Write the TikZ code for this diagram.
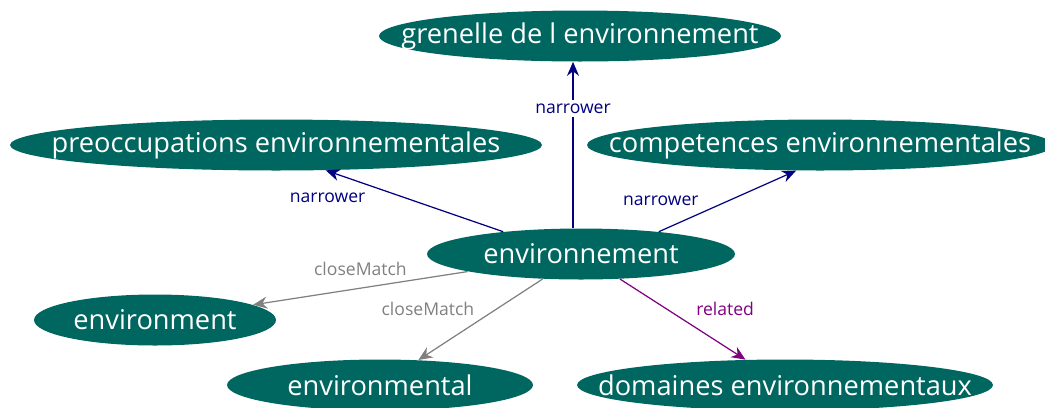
\documentclass[tikz,border=0pt]{standalone}
\usepackage{fontspec}
\setmainfont{Open Sans}
\usepackage{tikz}
\usetikzlibrary{positioning,arrows.meta,shapes.geometric,calc}
\definecolor{Teal}{RGB}{0,102,96}
\definecolor{Navy}{RGB}{0,0,128}
\definecolor{Plum}{RGB}{128,0,128}
\definecolor{MidGray}{RGB}{128,128,128}
\newcommand{\term}[1]{\makebox[0pt]{#1}}

\begin{document}
\begin{tikzpicture}[
    x=0.02cm, y=-0.02cm,
    concept/.style={ellipse, fill=Teal, inner sep=0pt, text=white,
                    minimum height=1.02cm, font=\fontsize{15.5}{18}\selectfont},
    link/.style={-{Stealth[length=2.8mm, width=2.4mm]}, line width=0.7pt},
    rel/.style={font=\fontsize{10}{12}\selectfont, inner sep=1pt}
]
    \useasboundingbox (0,0) rectangle (1045,407);

    \node[concept, minimum width=8.04cm]  (gren) at (580,36)  {\term{grenelle de l environnement}};
    \node[concept, minimum width=10.64cm] (preo) at (276,145) {\term{preoccupations environnementales}};
    \node[concept, minimum width=9.32cm]  (comp) at (820,145) {\term{competences environnementales}};
    \node[concept, minimum width=6.16cm]  (env)  at (581,254) {\term{environnement}};
    \node[concept, minimum width=4.84cm]  (envt) at (155,320) {\term{environment}};
    \node[concept, minimum width=6.12cm]  (envl) at (380,385) {\term{environmental}};
    \node[concept, minimum width=8.32cm]  (dom)  at (785,385) {\term{domaines environnementaux}};

    \draw[link, Navy] ([xshift=-0.16cm]env.north) -- node[rel, pos=0.72, fill=white, inner sep=2pt] {narrower} ([xshift=-0.14cm]gren.south);
    \draw[link, Navy] (env.164) -- node[rel, pos=0.74, below left=0.12cm] {narrower} (preo.333);
    \draw[link, Navy] (env.16) -- node[rel, pos=0.33, above left=0.09cm] {narrower} (comp.227);
    \draw[link, MidGray] (env) -- node[rel, pos=0.5, above=0.2cm] {closeMatch} (envt);
    \draw[link, MidGray] (env) -- node[rel, pos=0.37, left=0.4cm] {closeMatch} (envl);
    \draw[link, Plum] (env) -- node[rel, pos=0.37, right=0.55cm] {related} (dom);
\end{tikzpicture}
\end{document}
